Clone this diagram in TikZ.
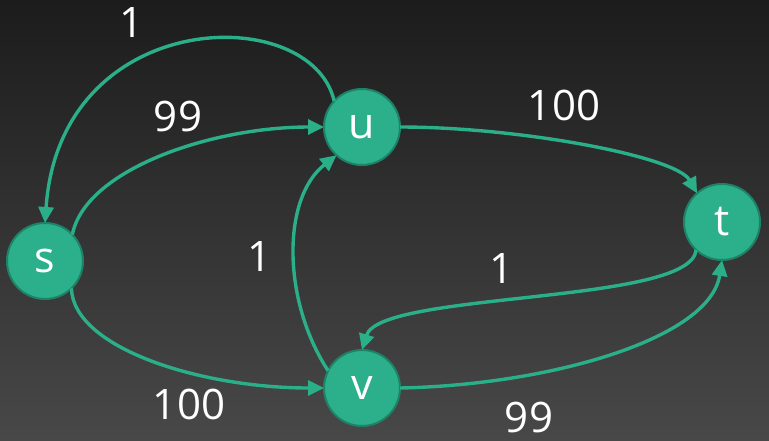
\documentclass[tikz,border=0pt]{standalone}
\usepackage{fontspec}
\setmainfont{Open Sans}
\usetikzlibrary{arrows.meta}
\definecolor{bgtop}{HTML}{1C1C1C}
\definecolor{bgmid}{HTML}{262626}
\definecolor{bgbot}{HTML}{484848}
\definecolor{nodefill}{HTML}{2BB08B}
\definecolor{nodeedge}{HTML}{1E8266}
\definecolor{edgecol}{HTML}{2AAF89}
\tikzset{
  vert/.style={circle, fill=nodefill, draw=nodeedge, line width=2pt, minimum size=76pt, inner sep=0pt, outer sep=0pt, text=white, font=\fontsize{43}{48}\selectfont},
  wlabel/.style={text=white, font=\fontsize{42}{48}\selectfont, inner sep=0pt},
  arc/.style={draw=edgecol, line width=3.4pt, -{Triangle[length=16pt,width=15pt]}}
}
\begin{document}
\begin{tikzpicture}[x=1pt,y=-1pt]
\useasboundingbox (0,0) rectangle (769,440);
\shade[top color=bgtop, middle color=bgmid, bottom color=bgbot] (0,0) rectangle (769,440);
\node[vert] (s) at (45,261) {s};
\node[vert] (u) at (362,127) {u};
\node[vert] (t) at (722,222) {t};
\node[vert] (v) at (362,388) {v};
% edges
\draw[arc] (u.137) .. controls +(-23,-100) and +(15,-217) .. (s.90);
\draw[arc] (s.44) .. controls +(13,-65) and +(-113,0) .. (u.180);
\draw[arc] (u.0) .. controls +(119,0) and +(-21,-37) .. (t.131);
\draw[arc] (t.227) .. controls +(-4,55) and +(18,-59) .. (v.90);
\draw[arc] (v.0) .. controls +(149,-3) and +(-12,79) .. (t.270);
\draw[arc] (s.314) .. controls +(2,60) and +(-123,0) .. (v.180);
\draw[arc] (v.153) .. controls +(-46,-70) and +(-55,43) .. (u.228);
% labels
\node[wlabel] (l1) at (132,23) {1};
\node[wlabel] (l2) at (178,116) {99};
\node[wlabel] (l3) at (564,105) {100};
\node[wlabel] (l4) at (260,257) {1};
\node[wlabel] (l5) at (502,269) {1};
\node[wlabel] (l6) at (189,404) {100};
\node[wlabel] (l7) at (529,417) {99};
\end{tikzpicture}
\end{document}
